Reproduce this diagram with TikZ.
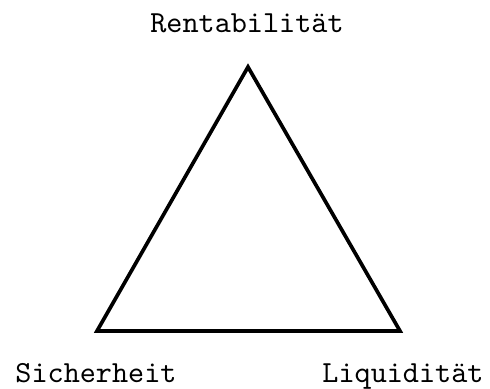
\documentclass[tikz,border=0pt]{standalone}
\usepackage{tikz}

\begin{document}
\begin{tikzpicture}[
    x=0.326pt, y=-0.326pt,
    goal/.style={
        font=\ttfamily,
        anchor=base,
        inner sep=0pt,
    },
    side/.style={line width=1.2pt, color=black}
]
\useasboundingbox (0,0) rectangle (490,389);

\coordinate (Rent) at (248,67);
\coordinate (Sich) at (97,331);
\coordinate (Liq) at (400,331);

\node[goal] (RentText) at (247,33) {Rentabilität};
\node[goal] (SichText) at (96,383) {Sicherheit};
\node[goal] (LiqText) at (403,383) {Liquidität};

\draw[side] (Rent) -- (Liq) -- (Sich) -- cycle;
\end{tikzpicture}
\end{document}
